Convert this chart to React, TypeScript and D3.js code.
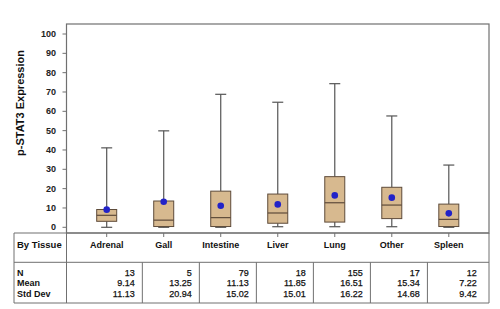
import React from "react";
import * as d3 from "d3";

const categories = ["Adrenal", "Gall", "Intestine", "Liver", "Lung", "Other", "Spleen"];
const whiskerLow = [0, 0, 0, 0.3, 0.3, 0.3, 0];
const q1 = [3.1, 0.4, 0.4, 2.1, 2.7, 4.5, 0.4];
const medians = [6.2, 3.7, 5.0, 7.4, 12.7, 11.5, 4.1];
const q3 = [9.2, 13.6, 18.7, 17.2, 26.2, 20.7, 12.0];
const whiskerHigh = [41.1, 49.9, 68.8, 64.7, 74.3, 57.6, 32.2];
const nValues = ["13", "5", "79", "18", "155", "17", "12"];
const means = [9.14, 13.25, 11.13, 11.85, 16.51, 15.34, 7.22];
const stdDevs = ["11.13", "20.94", "15.02", "15.01", "16.22", "14.68", "9.42"];
const yTicks = [0, 10, 20, 30, 40, 50, 60, 70, 80, 90, 100];
const statLabels = ["N", "Mean", "Std Dev"];

const W = 500;
const H = 309;
const plotLeft = 66.5;
const plotRight = 489;
const plotTop = 24;
const plotBottom = 233;
const tableLeft = 14;
const rowSep = 262.3;
const tableBottom = 303;

const font = "'Liberation Sans', Arial, sans-serif";
const boxFill = "#D7B98F";
const boxStroke = "#5E4B3A";
const whiskerColor = "#555555";
const meanColor = "#2222C8";
const frameColor = "#707070";

export default function App() {
  const x = d3.scalePoint<string>().domain(categories).range([plotLeft, plotRight]).padding(0.705);
  const y = d3.scaleLinear().domain([0, 100]).range([227.3, 34]);
  const step = x.step();
  const boxW = 20;
  const capW = 11;

  const statRows = categories.map((c, i) => [nValues[i], means[i].toFixed(2), stdDevs[i]]);
  const rowYs = [272.7, 283.3, 294];

  return (
    <svg width={W} height={H} style={{ position: "absolute", left: 0, top: 0, background: "#fff" }}>
      <rect x={0} y={0} width={W} height={H} fill="#fff" />
      {/* plot frame */}
      <rect x={plotLeft} y={plotTop} width={plotRight - plotLeft} height={plotBottom - plotTop} fill="none" stroke={frameColor} strokeWidth={1.2} />
      {/* y ticks */}
      {yTicks.map((t) => (
        <g key={t}>
          <line x1={plotLeft - 4} x2={plotLeft} y1={y(t)} y2={y(t)} stroke={frameColor} strokeWidth={1} />
          <text x={56} y={y(t)} dy="0.35em" textAnchor="end" fontFamily={font} fontWeight="bold" fontSize={9} fill="#222">{t}</text>
        </g>
      ))}
      <text transform={`translate(24,103) rotate(-90)`} textAnchor="middle" fontFamily={font} fontWeight="bold" fontSize={11} fill="#111">p-STAT3 Expression</text>

      {/* boxes */}
      {categories.map((c, i) => {
        const cx = x(c)!;
        return (
          <g key={c}>
            <line x1={cx} x2={cx} y1={y(whiskerHigh[i])} y2={y(q3[i])} stroke={whiskerColor} strokeWidth={1.2} />
            <line x1={cx} x2={cx} y1={y(q1[i])} y2={y(whiskerLow[i])} stroke={whiskerColor} strokeWidth={1.2} />
            <line x1={cx - capW / 2} x2={cx + capW / 2} y1={y(whiskerHigh[i])} y2={y(whiskerHigh[i])} stroke={whiskerColor} strokeWidth={1.2} />
            <line x1={cx - capW / 2} x2={cx + capW / 2} y1={y(whiskerLow[i])} y2={y(whiskerLow[i])} stroke={whiskerColor} strokeWidth={1.2} />
            <rect x={cx - boxW / 2} y={y(q3[i])} width={boxW} height={y(q1[i]) - y(q3[i])} fill={boxFill} stroke={boxStroke} strokeWidth={1} />
            <line x1={cx - boxW / 2} x2={cx + boxW / 2} y1={y(medians[i])} y2={y(medians[i])} stroke={boxStroke} strokeWidth={1.2} />
            <circle cx={cx} cy={y(means[i])} r={3.3} fill={meanColor} />
            <line x1={cx} x2={cx} y1={plotBottom} y2={plotBottom + 4} stroke={frameColor} strokeWidth={1} />
          </g>
        );
      })}

      {/* table */}
      <line x1={tableLeft} x2={plotRight} y1={plotBottom} y2={plotBottom} stroke={frameColor} strokeWidth={1.2} />
      <line x1={tableLeft} x2={plotRight} y1={rowSep} y2={rowSep} stroke={frameColor} strokeWidth={1} />
      <line x1={tableLeft} x2={plotRight} y1={tableBottom} y2={tableBottom} stroke={frameColor} strokeWidth={1} />
      <line x1={tableLeft} x2={tableLeft} y1={plotBottom} y2={tableBottom} stroke={frameColor} strokeWidth={1} />
      <line x1={plotLeft} x2={plotLeft} y1={plotBottom} y2={tableBottom} stroke={frameColor} strokeWidth={1} />
      <line x1={plotRight} x2={plotRight} y1={plotBottom} y2={tableBottom} stroke={frameColor} strokeWidth={1} />
      {categories.slice(1).map((c) => (
        <line key={c} x1={x(c)! - step * 0.375} x2={x(c)! - step * 0.375} y1={rowSep} y2={tableBottom} stroke={frameColor} strokeWidth={1} />
      ))}
      <text x={17} y={244.5} dy="0.35em" fontFamily={font} fontWeight="bold" fontSize={9.5} fill="#111">By Tissue</text>
      {categories.map((c) => (
        <text key={c} x={x(c)!} y={244.5} dy="0.35em" textAnchor="middle" fontFamily={font} fontWeight="bold" fontSize={9} fill="#111">{c}</text>
      ))}
      {statLabels.map((l, r) => (
        <text key={l} x={17} y={rowYs[r]} dy="0.35em" fontFamily={font} fontWeight="bold" fontSize={9} fill="#111">{l}</text>
      ))}
      {categories.map((c, i) =>
        statRows[i].map((v, r) => (
          <text key={c + r} x={x(c)! + 28} y={rowYs[r]} dy="0.35em" textAnchor="end" fontFamily={font} fontSize={9} fill="#111" stroke="#111" strokeWidth={0.25}>{v}</text>
        ))
      )}
    </svg>
  );
}
